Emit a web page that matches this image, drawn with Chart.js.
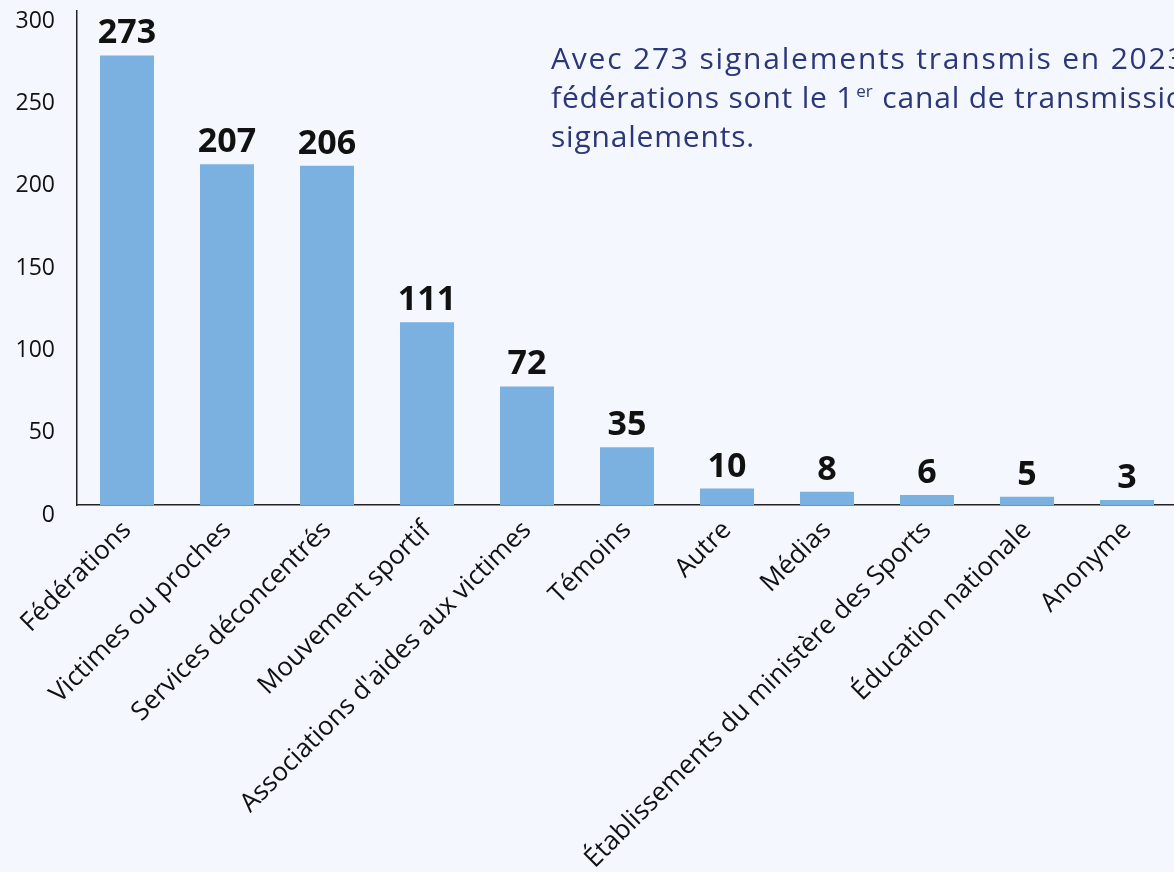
<!DOCTYPE html>
<html>
<head>
<meta charset="utf-8">
<script src="https://cdn.jsdelivr.net/npm/chart.js@4"></script>
<style>
  html, body { margin: 0; padding: 0; background: #f4f7fe; overflow: hidden; }
  #wrap { width: 1177px; height: 872px; }
</style>
</head>
<body>
<div id="wrap"><canvas id="bars"></canvas></div>
<script>
const categories = [
    'Fédérations',
    'Victimes ou proches',
    'Services déconcentrés',
    'Mouvement sportif',
    "Associations d'aides aux victimes",
    'Témoins',
    'Autre',
    'Médias',
    'Établissements du ministère des Sports',
    'Éducation nationale',
    'Anonyme'
];
const signalements = [273, 207, 206, 111, 72, 35, 10, 8, 6, 5, 3];
const yTicks = [0, 50, 100, 150, 200, 250, 300];

const fontFamily = "'Open Sans', Lato, sans-serif";

// bold value above each bar
const valueLabels = {
    id: 'valueLabels',
    afterDatasetsDraw(chart) {
        const ctx = chart.ctx;
        const meta = chart.getDatasetMeta(0);
        ctx.save();
        ctx.font = "bold 34px " + fontFamily;
        ctx.fillStyle = '#111';
        ctx.textAlign = 'center';
        ctx.textBaseline = 'alphabetic';
        meta.data.forEach((bar, i) => {
            ctx.fillText(signalements[i], bar.x, bar.y - 12);
        });
        ctx.restore();
    }
};

// the comment text at the top right
const note = {
    id: 'note',
    afterDraw(chart) {
        const ctx = chart.ctx;
        ctx.save();
        ctx.fillStyle = '#2b3777';
        ctx.textBaseline = 'alphabetic';
        const x = 551;
        ctx.font = "30px " + fontFamily;
        ctx.letterSpacing = '1.8px';
        ctx.fillText('Avec 273 signalements transmis en 2023, les', x, 69);

        ctx.letterSpacing = '0.8px';
        const first = 'fédérations sont le 1';
        ctx.fillText(first, x, 108);
        const w = ctx.measureText(first).width;
        ctx.font = "17px " + fontFamily;
        ctx.letterSpacing = '0px';
        ctx.fillText('er', x + w + 2, 97);
        const w2 = ctx.measureText('er').width;
        ctx.font = "30px " + fontFamily;
        ctx.letterSpacing = '0.8px';
        ctx.fillText(' canal de transmission des', x + w + w2 + 3, 108);

        ctx.fillText('signalements.', x, 147);
        ctx.restore();
    }
};

new Chart(document.getElementById('bars'), {
    type: 'bar',
    data: {
        labels: categories,
        datasets: [{
            data: signalements,
            backgroundColor: '#7ab1e0',
            barPercentage: 0.54,
            categoryPercentage: 1
        }]
    },
    options: {
        responsive: true,
        maintainAspectRatio: false,
        animation: false,
        layout: { padding: { top: 11, right: 0, left: 0, bottom: 0 } },
        plugins: {
            legend: { display: false },
            tooltip: { enabled: false }
        },
        scales: {
            x: {
                grid: { display: false },
                border: { display: true, color: '#222', width: 1.5 },
                ticks: {
                    color: '#111',
                    font: { family: fontFamily, size: 26 },
                    minRotation: 45,
                    maxRotation: 45,
                    autoSkip: false,
                    padding: 2
                },
                afterFit(scale) {
                    scale.height = 367;
                    scale.paddingLeft = 0;
                    scale.paddingRight = 0;
                }
            },
            y: {
                min: 0,
                max: 300,
                grid: { display: false },
                border: { display: true, color: '#222', width: 1.5 },
                afterBuildTicks(scale) { scale.ticks = yTicks.map(v => ({ value: v })); },
                ticks: {
                    color: '#111',
                    font: { family: fontFamily, size: 23 },
                    padding: 14,
                    labelOffset: 10
                },
                afterFit(scale) {
                    scale.width = 77;
                    scale.paddingTop = 0;
                    scale.paddingBottom = 0;
                }
            }
        }
    },
    plugins: [valueLabels, note]
});
</script>
</body>
</html>
